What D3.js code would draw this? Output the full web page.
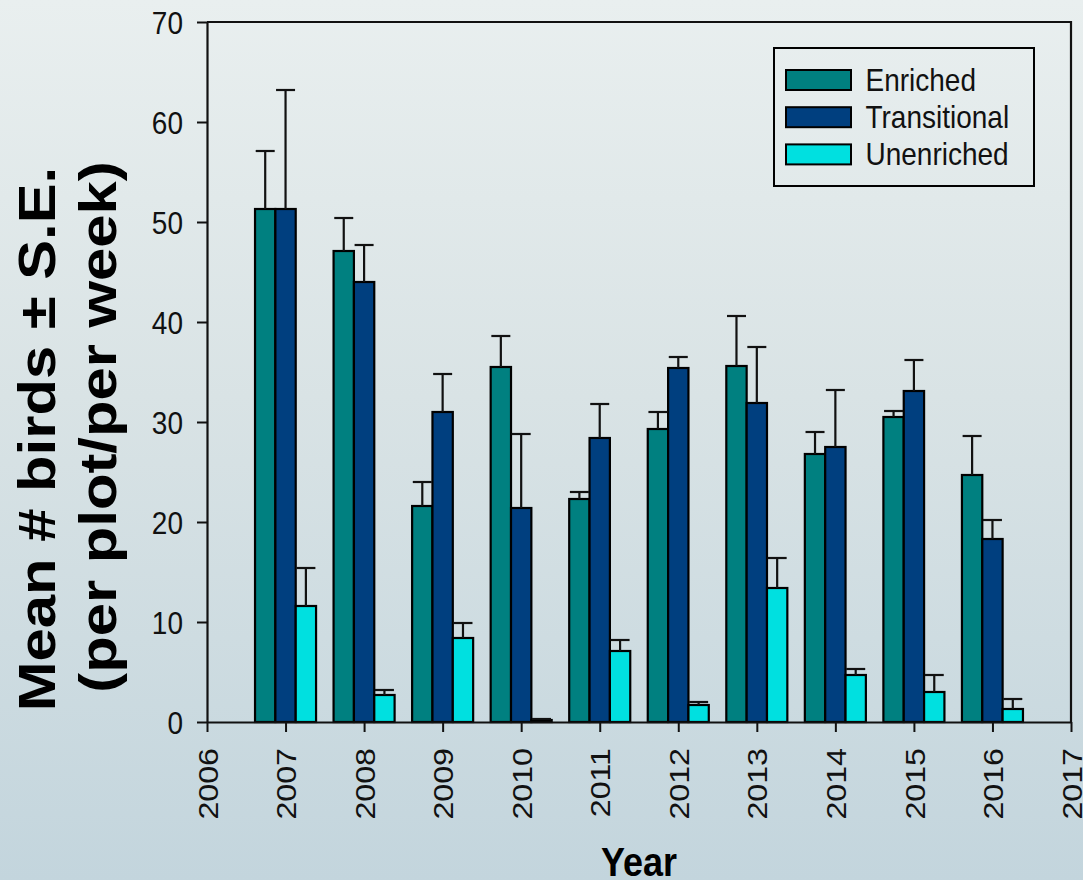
<!DOCTYPE html>
<html>
<head>
<meta charset="utf-8">
<script src="https://cdn.jsdelivr.net/npm/d3@7"></script>
<style>
  html, body { margin: 0; padding: 0; }
  body { width: 1083px; height: 880px; overflow: hidden;
         background: linear-gradient(to bottom, #e9efef 0%, #d9e3e5 45%, #c3d5dd 100%); }
  svg { display: block; font-family: "Liberation Sans", Arial, sans-serif; }
</style>
</head>
<body>
<svg id="chart" width="1083" height="880"></svg>
<script>
// Mean number of birds per plot per week, by year and plot type
const years = [2007, 2008, 2009, 2010, 2011, 2012, 2013, 2014, 2015, 2016];
const seriesNames = ["Enriched", "Transitional", "Unenriched"];
const enriched       = [51.3, 47.1, 21.6, 35.5, 22.3, 29.3, 35.6, 26.8, 30.5, 24.7];
const enrichedSE     = [5.8, 3.3, 2.4, 3.1, 0.7, 1.7, 5.0, 2.2, 0.6, 3.9];
const transitional   = [51.3, 44.0, 31.0, 21.4, 28.4, 35.4, 31.9, 27.5, 33.1, 18.3];
const transitionalSE = [11.9, 3.7, 3.8, 7.4, 3.4, 1.1, 5.6, 5.7, 3.1, 1.9];
const unenriched     = [11.6, 2.7, 8.4, 0.2, 7.1, 1.7, 13.4, 4.7, 3.0, 1.3];
const unenrichedSE   = [3.8, 0.5, 1.5, 0.1, 1.1, 0.3, 3.0, 0.6, 1.7, 1.0];
const xTicks = [2006, 2007, 2008, 2009, 2010, 2011, 2012, 2013, 2014, 2015, 2016, 2017];
const yTicks = [0, 10, 20, 30, 40, 50, 60, 70];

const colors = { "Enriched": "#008080", "Transitional": "#003f7f", "Unenriched": "#00e0e0" };
const means = { "Enriched": enriched, "Transitional": transitional, "Unenriched": unenriched };
const errors = { "Enriched": enrichedSE, "Transitional": transitionalSE, "Unenriched": unenrichedSE };

const rows = [];
years.forEach((yr, i) => {
  seriesNames.forEach(s => rows.push({ year: yr, series: s, value: means[s][i], se: errors[s][i] }));
});

const svg = d3.select("#chart");
const plot = { left: 207, right: 1071, top: 22, bottom: 722 };
const stretch = 1.15;  // vertical stretch of lettering

const x = d3.scaleLinear().domain([2006, 2017]).range([plot.left, plot.right]);
const y = d3.scaleLinear().domain([0, 70]).range([plot.bottom, plot.top]);

const step = x(2007) - x(2006);
const groupWidth = step * 0.777;
const sub = d3.scaleBand().domain(seriesNames).range([-groupWidth / 2, groupWidth / 2]).padding(0);

// bars
svg.append("g").selectAll("rect").data(rows).join("rect")
  .attr("x", d => x(d.year) + sub(d.series))
  .attr("y", d => y(d.value))
  .attr("width", sub.bandwidth())
  .attr("height", d => y(0) - y(d.value))
  .attr("fill", d => colors[d.series])
  .attr("stroke", "#000")
  .attr("stroke-width", 2.2);

// upper error bars
const capHalf = 9.5;
const eb = svg.append("g").attr("stroke", "#111").attr("stroke-width", 2.2);
eb.selectAll("line.stem").data(rows).join("line").attr("class", "stem")
  .attr("x1", d => x(d.year) + sub(d.series) + sub.bandwidth() / 2)
  .attr("x2", d => x(d.year) + sub(d.series) + sub.bandwidth() / 2)
  .attr("y1", d => y(d.value))
  .attr("y2", d => y(d.value + d.se));
eb.selectAll("line.cap").data(rows).join("line").attr("class", "cap")
  .attr("x1", d => x(d.year) + sub(d.series) + sub.bandwidth() / 2 - capHalf)
  .attr("x2", d => x(d.year) + sub(d.series) + sub.bandwidth() / 2 + capHalf)
  .attr("y1", d => y(d.value + d.se))
  .attr("y2", d => y(d.value + d.se));

// frame on top and right
svg.append("path")
  .attr("d", `M${x(2006)},${y(70)}H${x(2017)}V${y(0)}`)
  .attr("fill", "none").attr("stroke", "#111").attr("stroke-width", 2.2);

// y axis
const yAxis = svg.append("g")
  .attr("transform", `translate(${plot.left},0)`)
  .call(d3.axisLeft(y).tickValues(yTicks).tickSize(10).tickSizeOuter(0).tickPadding(14));
yAxis.select(".domain").attr("stroke", "#111").attr("stroke-width", 2.2);
yAxis.selectAll(".tick line").attr("stroke", "#111").attr("stroke-width", 2);
yAxis.selectAll(".tick text")
  .attr("font-size", 28).attr("fill", "#111")
  .attr("dy", "0.36em")
  .attr("transform", `scale(1,${stretch})`);

// x axis
const xAxis = svg.append("g")
  .attr("transform", `translate(0,${plot.bottom})`)
  .call(d3.axisBottom(x).tickValues(xTicks).tickFormat(d3.format("d")).tickSize(10).tickSizeOuter(0));
xAxis.select(".domain").attr("stroke", "#111").attr("stroke-width", 2.2);
xAxis.selectAll(".tick line").attr("stroke", "#111").attr("stroke-width", 2);
xAxis.selectAll(".tick text")
  .attr("font-size", 28).attr("fill", "#111")
  .attr("x", 0).attr("y", 0).attr("dy", "0.36em")
  .attr("text-anchor", "end")
  .attr("transform", `translate(0,26) scale(1,${stretch}) rotate(-90)`);

// axis titles
svg.append("text")
  .attr("transform", `translate(55,439) scale(1,${stretch}) rotate(-90)`)
  .attr("text-anchor", "middle").attr("font-size", 52).attr("font-weight", "bold").attr("fill", "#000")
  .text("Mean # birds ± S.E.");
svg.append("text")
  .attr("transform", `translate(116,427) scale(1,${stretch}) rotate(-90)`)
  .attr("text-anchor", "middle").attr("font-size", 52).attr("font-weight", "bold").attr("fill", "#000")
  .text("(per plot/per week)");
svg.append("text")
  .attr("transform", `translate(639,876) scale(1,${stretch})`)
  .attr("text-anchor", "middle").attr("font-size", 36).attr("font-weight", "bold").attr("fill", "#000")
  .text("Year");

// legend
const legend = svg.append("g");
legend.append("rect")
  .attr("x", 774).attr("y", 48).attr("width", 260).attr("height", 138)
  .attr("fill", "none").attr("stroke", "#000").attr("stroke-width", 2);
const li = legend.selectAll("g.item").data(seriesNames).join("g").attr("class", "item");
li.append("rect")
  .attr("x", 786).attr("y", (d, i) => 70 + i * 37.2)
  .attr("width", 65).attr("height", 20)
  .attr("fill", d => colors[d]).attr("stroke", "#000").attr("stroke-width", 2);
li.append("text")
  .attr("transform", (d, i) => `translate(865.5,${90.5 + i * 37.2}) scale(1,${stretch})`)
  .attr("font-size", 28).attr("fill", "#111")
  .text(d => d);
</script>
</body>
</html>
